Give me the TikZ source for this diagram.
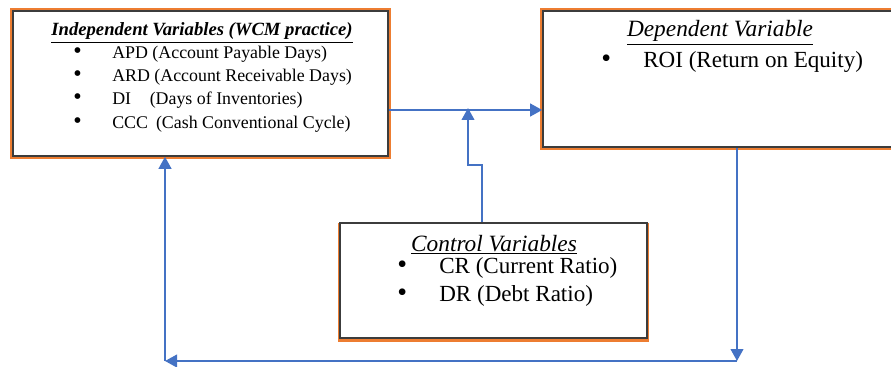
\documentclass[tikz,border=0pt]{standalone}
\usepackage{fontspec}
\setmainfont{Liberation Serif}
\usetikzlibrary{arrows.meta}
\definecolor{flowblue}{RGB}{68,114,196}
\definecolor{boxorange}{RGB}{237,125,49}
\definecolor{boxedge}{RGB}{60,60,60}

\begin{document}
\begin{tikzpicture}[
    x=0.75pt, y=-0.75pt,
    varbox/.style={draw=boxedge, line width=1.2pt, fill=white, rectangle, inner sep=0pt, preaction={draw=boxorange, line width=4.4pt}},
    ctrlbox/.style={draw=boxedge, line width=1.2pt, fill=white, rectangle, inner sep=0pt, preaction={draw=boxorange, line width=2.8pt, transform canvas={yshift=-1.6pt}}},
    flow/.style={draw=flowblue, line width=1.5pt, -{Triangle[length=9pt, width=9.5pt]}},
    item/.style={anchor=base west, inner sep=0pt},
    head/.style={anchor=base, inner sep=0pt}
]
\useasboundingbox (0,0) rectangle (891,367);
\clip (0,0) rectangle (891,367);

% Boxes
\node[varbox, minimum width=281.25pt, minimum height=108.75pt] (indep) at (200.5,83.5) {};
\node[varbox, minimum width=271.5pt, minimum height=102pt] (dep) at (724,79) {};
\node[ctrlbox, minimum width=230.25pt, minimum height=86.25pt] (ctrl) at (493.5,280.5) {};

% Independent variables
\node[head, font=\fontsize{14}{16}\selectfont\bfseries\itshape] (indeptitle) at (202,36) {\underline{Independent Variables (WCM practice)}};
\foreach \lbl [count=\i] in {{APD (Account Payable Days)}, {ARD (Account Receivable Days)}, {DI\hspace{14pt}(Days of Inventories)}, {CCC\hspace{6pt}(Cash Conventional Cycle)}} {
    \node[item, font=\fontsize{18}{18}\selectfont] (ibul\i) at (73,36+23*\i) {\textbullet};
    \node[item, font=\fontsize{13.4}{16}\selectfont] (iitem\i) at (112,36+23*\i) {\lbl};
}

% Dependent variable
\node[head, font=\fontsize{17.5}{20}\selectfont\itshape] (deptitle) at (720,37) {\underline{Dependent Variable}};
\node[item, font=\fontsize{21}{21}\selectfont] (dbul) at (601,68) {\textbullet};
\node[item, font=\fontsize{17.3}{20}\selectfont] (ditem) at (643,68) {ROI (Return on Equity)};

% Control variables
\node[head, font=\fontsize{17.5}{20}\selectfont\itshape] (ctrltitle) at (494,251) {\underline{Control Variables}};
\foreach \lbl [count=\i] in {{CR (Current Ratio)}, {DR (Debt Ratio)}} {
    \node[item, font=\fontsize{21}{21}\selectfont] (cbul\i) at (397,245+28*\i) {\textbullet};
    \node[item, font=\fontsize{17.3}{20}\selectfont] (citem\i) at (439,245+28*\i) {\lbl};
}

% Arrows
\coordinate (tee) at (468,108);
\coordinate (loopr) at (737,361);
\coordinate (loopl) at (165,361);
\draw[flow] (indep.east |- 0,110) -- (dep.west |- 0,110);
\draw[flow] (ctrl.north -| 482,0) -- (482,165) -- (468,165) -- (tee);
\draw[flow] (dep.south -| loopr) -- (loopr);
\draw[flow] (loopr) -- (loopl);
\draw[flow] (loopl) -- (indep.south -| loopl);

\end{tikzpicture}
\end{document}
